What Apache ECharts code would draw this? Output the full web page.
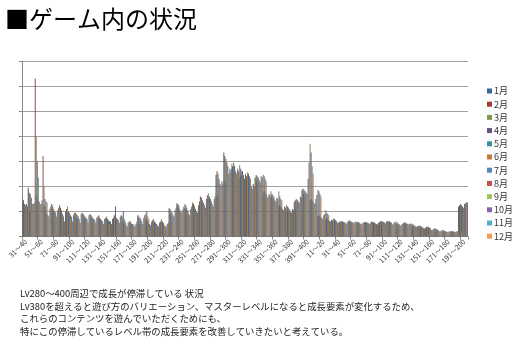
<!DOCTYPE html>
<html><head><meta charset="utf-8">
<script src="https://cdn.jsdelivr.net/npm/echarts@6/dist/echarts.min.js"></script>
<style>html,body{margin:0;padding:0;background:#fff}#c{width:512px;height:355px}</style>
</head><body><div id="c"></div>
<script>
var categories = ["31～40","41～50","51～60","61～70","71～80","81～90","91～100","101～110","111～120","121～130",
"131～140","141～150","151～160","161～170","171～180","181～190","191～200","201～210","211～220","221～230",
"231～240","241～250","251～260","261～270","271～280","281～290","291～300","301～310","311～320","321～330",
"331～340","341～350","351～360","361～370","371～380","381～390","391～400",
"1～10","11～20","21～30","31～40","41～50","51～60","61～70","71～80","81～90","91～100",
"101～110","111～120","121～130","131～140","141～150","151～160","161～170","171～180","181～190","191～200"];
var months = ["1月","2月","3月","4月","5月","6月","7月","8月","9月","10月","11月","12月"];
var m1 = [1.86,1.94,1.65,1.25,1.30,1.25,1.05,0.95,0.90,0.85,0.80,0.75,0.85,0.60,0.60,0.85,0.70,0.60,0.55,1.13,1.33,1.13,1.33,1.60,1.60,2.45,3.35,2.70,2.33,2.25,2.33,1.73,1.60,1.20,1.03,1.39,1.86,1.46,0.82,0.66,0.60,0.60,0.63,0.55,0.58,0.58,0.60,0.60,0.49,0.55,0.42,0.35,0.33,0.23,0.20,0.20,1.20];
var m2 = [1.70,1.75,1.50,1.20,1.20,1.15,1.00,0.90,0.85,0.80,0.75,0.70,0.80,0.55,0.55,0.80,0.65,0.55,0.50,1.10,1.25,1.10,1.30,1.55,1.55,2.60,3.20,2.80,2.40,2.40,2.45,1.80,1.60,1.25,1.05,1.45,1.90,1.50,0.85,0.72,0.62,0.60,0.62,0.56,0.58,0.57,0.62,0.60,0.50,0.56,0.42,0.36,0.32,0.24,0.20,0.21,1.25];
var m3 = [1.55,1.70,1.40,1.05,1.10,1.05,0.95,0.85,0.80,0.75,0.70,0.65,0.75,0.55,0.50,0.75,0.60,0.55,0.50,1.00,1.10,1.05,1.20,1.45,1.50,2.50,3.10,2.95,2.50,2.30,2.40,1.75,1.55,1.20,1.05,1.50,1.85,1.45,0.80,0.70,0.60,0.58,0.60,0.55,0.56,0.55,0.60,0.58,0.48,0.55,0.41,0.35,0.30,0.23,0.19,0.20,1.30];
var m4 = [1.45,1.55,1.35,0.90,1.00,0.90,0.85,0.80,0.75,0.70,0.65,0.60,0.70,0.50,0.50,0.70,0.55,0.50,0.45,0.95,1.05,1.00,1.10,1.35,1.40,2.30,2.95,2.80,2.60,2.20,2.35,1.70,1.50,1.15,1.00,1.45,1.80,1.40,0.78,0.65,0.58,0.56,0.58,0.52,0.55,0.52,0.58,0.56,0.46,0.52,0.40,0.34,0.28,0.22,0.19,0.20,1.25];
var m5 = [1.30,1.30,1.30,0.85,0.95,0.80,0.80,0.70,0.70,0.65,0.60,0.60,0.65,0.45,0.45,0.60,0.50,0.45,0.40,0.85,1.00,0.90,1.00,1.25,1.30,2.10,2.80,2.60,2.45,2.00,2.25,1.60,1.45,1.10,1.00,1.40,1.75,1.35,0.75,0.62,0.55,0.55,0.56,0.50,0.53,0.50,0.56,0.50,0.45,0.50,0.40,0.33,0.26,0.21,0.18,0.19,1.20];
var m6 = [1.25,1.30,1.30,0.80,0.80,0.60,0.60,0.55,0.55,0.55,0.50,0.50,0.55,0.40,0.40,0.50,0.45,0.40,0.40,0.80,0.95,0.85,0.95,1.15,1.20,2.00,2.50,2.50,2.30,1.90,2.15,1.55,1.40,1.05,0.95,1.35,1.70,1.30,0.70,0.60,0.55,0.50,0.52,0.48,0.50,0.48,0.52,0.48,0.44,0.48,0.38,0.32,0.25,0.20,0.18,0.18,1.15];
var m7 = [1.30,1.35,1.45,1.10,1.05,1.00,0.85,0.90,0.85,0.75,0.70,0.70,0.80,0.55,0.50,0.75,0.60,0.55,0.50,1.05,1.10,1.10,1.25,1.50,1.50,2.20,2.70,2.70,2.50,2.10,2.40,1.70,1.55,1.20,1.10,1.60,2.30,1.50,0.85,0.68,0.60,0.58,0.60,0.55,0.56,0.55,0.60,0.58,0.50,0.52,0.42,0.35,0.30,0.24,0.20,0.20,1.30];
var m8 = [1.20,6.30,3.20,1.20,1.15,1.10,0.95,0.95,0.90,0.80,0.75,0.75,0.85,0.60,0.60,0.85,0.65,0.60,0.55,1.15,1.20,1.20,1.40,1.65,1.60,2.10,2.60,2.60,2.40,2.00,2.35,1.65,1.50,1.15,1.05,1.55,2.95,1.66,0.90,0.65,0.58,0.60,0.58,0.56,0.60,0.58,0.60,0.55,0.52,0.50,0.42,0.38,0.32,0.25,0.20,0.22,1.33];
var m9 = [1.15,4.00,2.00,1.25,1.20,1.20,0.90,0.85,0.85,0.85,0.80,0.70,0.80,0.60,0.60,0.90,0.70,0.70,0.60,1.20,1.30,1.37,1.49,1.73,1.76,2.35,2.90,2.85,2.55,2.35,2.47,1.80,1.80,1.27,1.13,1.80,3.70,1.86,1.06,0.72,0.62,0.65,0.60,0.58,0.58,0.60,0.62,0.60,0.55,0.52,0.44,0.40,0.33,0.26,0.21,0.22,1.38];
var m10 = [1.05,3.00,1.50,1.00,1.00,0.95,0.75,0.75,0.70,0.70,0.65,1.20,1.02,0.50,0.50,1.00,0.60,0.60,0.87,1.29,1.25,1.25,1.40,1.60,1.65,2.20,2.80,2.70,2.50,2.20,2.40,1.70,1.60,1.20,1.10,1.70,3.35,1.80,0.95,0.70,0.60,0.60,0.58,0.55,0.55,0.55,0.60,0.56,0.50,0.50,0.42,0.38,0.30,0.24,0.20,0.20,1.35];
var m11 = [1.00,2.35,1.40,0.90,0.90,0.80,0.70,0.70,0.65,0.60,0.60,0.65,0.70,0.45,0.45,0.80,0.55,0.55,0.60,1.20,1.15,1.10,1.30,1.50,1.55,2.10,2.60,2.60,2.40,2.10,2.30,1.65,1.50,1.15,1.05,1.60,2.80,1.70,0.90,0.66,0.58,0.56,0.55,0.52,0.50,0.45,0.56,0.52,0.46,0.46,0.40,0.35,0.28,0.22,0.19,0.20,1.30];
var m12 = [1.00,1.40,1.35,0.95,0.85,0.70,0.60,0.60,0.55,0.55,0.50,0.60,0.60,0.40,0.40,0.70,0.45,0.45,0.50,1.00,1.05,1.00,1.20,1.40,1.45,2.00,2.50,2.50,2.30,2.00,2.20,1.60,1.45,1.10,1.00,1.50,2.50,1.60,0.85,0.62,0.55,0.52,0.52,0.50,0.48,0.50,0.54,0.50,0.44,0.44,0.38,0.33,0.26,0.21,0.18,0.19,1.43];
var colors = ["#3D6596","#9E3B38","#7F9A48","#65507F","#3A8FA4","#C07A3A","#5A84BE","#C5504D","#A2C15F","#8366A6","#4DB0C8","#F79A4F"];
var seriesData = [m1,m2,m3,m4,m5,m6,m7,m8,m9,m10,m11,m12];
var noteLines = [
  "Lv280～400周辺で成長が停滞している 状況",
  "Lv380を超えると遊び方のバリエーション、マスターレベルになると成長要素が変化するため、",
  "これらのコンテンツを遊んでいただくためにも、",
  "特にこの停滞しているレベル帯の成長要素を改善していきたいと考えている。"
];
function mute(hex, t){
  var r=parseInt(hex.substr(1,2),16), g=parseInt(hex.substr(3,2),16), b=parseInt(hex.substr(5,2),16);
  var gr=80;
  function m(v){return Math.round(v*(1-t)+gr*t);}
  return 'rgb('+m(r)+','+m(g)+','+m(b)+')';
}
var FONT = '"Noto Sans CJK JP", "Noto Sans", sans-serif';
var chart = echarts.init(document.getElementById('c'), null, {renderer:'canvas'});
var series = months.map(function(m,i){
  return {name:m, type:'bar', data:seriesData[i], barGap:'0%', barCategoryGap:'6%',
    itemStyle:{color:mute(colors[i],0.45)}, animation:false};
});
var legendData = months.map(function(m,i){ return {name:m, itemStyle:{color:colors[i]}}; });
var graphics = [{type:'text', left:5, top:7, style:{text:'■ゲーム内の状況', font:'24px '+FONT, fill:'#000'}}];
noteLines.forEach(function(t,i){
  graphics.push({type:'text', left:20, top:289+i*12.5, style:{text:t, font:'9.4px '+FONT, fill:'#222'}});
});
chart.setOption({
  animation:false,
  textStyle:{fontFamily:FONT},
  grid:{left:22, right:44, top:61, bottom:118.5, containLabel:false},
  legend:{orient:'vertical', left:482, top:81, itemWidth:5, itemHeight:5, itemGap:3.2,
    textStyle:{fontSize:9, lineHeight:10, color:'#333', padding:[0,0,0,-3]}, icon:'rect', data:legendData},
  xAxis:{type:'category', data:categories,
    axisLine:{lineStyle:{color:'#888'}},
    axisTick:{show:true, length:3, lineStyle:{color:'#888'}},
    axisLabel:{interval:1, rotate:45, fontSize:7, color:'#333', margin:4}},
  yAxis:{type:'value', min:0, max:7, interval:1,
    axisLine:{show:true, lineStyle:{color:'#888'}},
    axisTick:{show:true, length:3, inside:false, lineStyle:{color:'#888'}},
    axisLabel:{show:false},
    splitLine:{lineStyle:{color:'#a0a0a0', width:1}}},
  series:series,
  graphic:graphics
});
</script></body></html>
